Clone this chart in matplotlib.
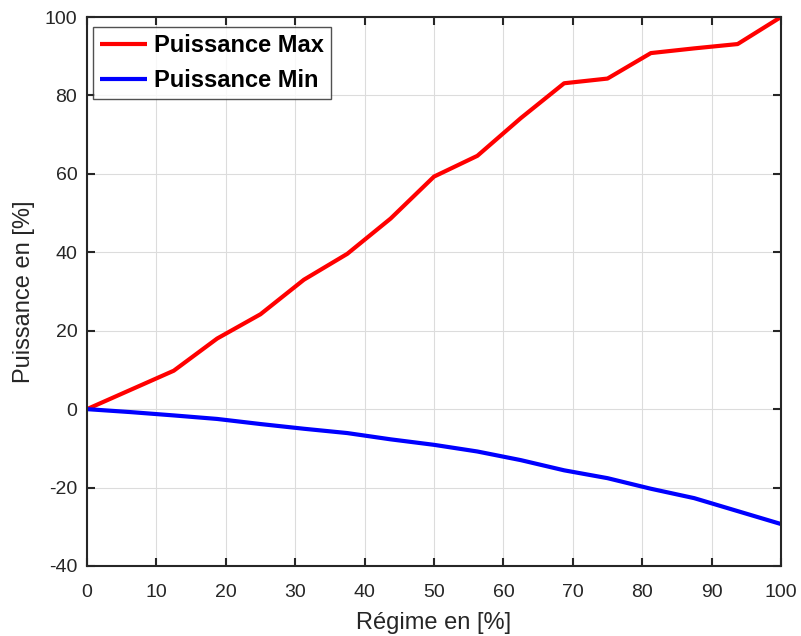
import matplotlib
matplotlib.use("Agg")
import matplotlib.pyplot as plt

regime = [0, 6.25, 12.5, 18.75, 25, 31.25, 37.5, 43.75, 50, 56.25, 62.5, 68.75, 75, 81.25, 87.5, 93.75, 100]
p_max = [0, 4.9, 9.8, 18.0, 24.2, 33.0, 39.6, 48.6, 59.3, 64.6, 74.2, 83.1, 84.3, 90.8, 92.0, 93.1, 100]
p_min = [0, -0.75, -1.6, -2.5, -3.8, -5.0, -6.1, -7.7, -9.1, -10.8, -13.0, -15.6, -17.6, -20.3, -22.7, -26.0, -29.3]

plt.rcParams['font.family'] = ['Liberation Sans', 'DejaVu Sans']
plt.rcParams['axes.unicode_minus'] = False

fig = plt.figure(figsize=(8.01, 6.36), dpi=100)
ax = fig.add_axes([87/801, 70/636, 694/801, 549/636])

ax.plot(regime, p_max, color='#ff0000', lw=3, label='Puissance Max', solid_capstyle='butt')
ax.plot(regime, p_min, color='#0000ff', lw=3, label='Puissance Min', solid_capstyle='butt')

ax.set_xlim(0, 100)
ax.set_ylim(-40, 100)
ax.set_xticks(range(0, 101, 10))
ax.set_yticks(range(-40, 101, 20))
ax.grid(True, color='#dcdcdc', lw=0.8)
ax.set_axisbelow(True)

for s in ax.spines.values():
    s.set_color('#262626')
    s.set_linewidth(1.5)
ax.tick_params(direction='in', length=6, width=1.5, color='#262626',
               labelsize=14, labelcolor='#262626', top=True, right=True)
ax.tick_params(axis='x', pad=13)
ax.tick_params(axis='y', pad=7)

ax.set_xlabel('Régime en [%]', fontsize=17, color='#262626', labelpad=8)
ax.set_ylabel('Puissance en [%]', fontsize=17, color='#262626', labelpad=7)

leg = ax.legend(loc='upper left', bbox_to_anchor=(0.0, 0.992),
                prop={'weight': 'bold', 'size': 17},
                frameon=True, fancybox=False, edgecolor='#262626',
                handlelength=2.0, handletextpad=0.3, borderpad=0.3,
                labelspacing=0.5, borderaxespad=0.25)
leg.get_frame().set_linewidth(1.0)
for t in leg.get_texts():
    t.set_color('black')

fig.savefig('out.png', dpi=100)
